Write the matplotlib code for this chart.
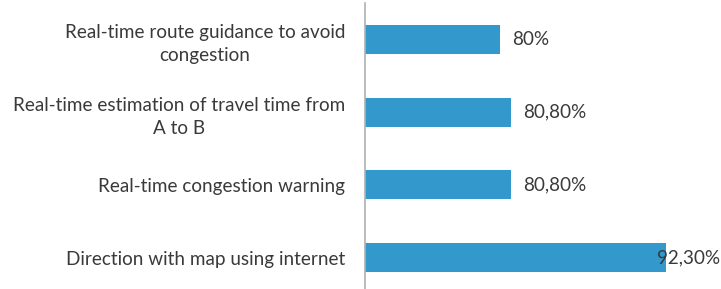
import matplotlib
matplotlib.use("Agg")
import matplotlib.pyplot as plt

categories = [
    "Real-time route guidance to avoid\ncongestion",
    "Real-time estimation of travel time from\nA to B",
    "Real-time congestion warning",
    "Direction with map using internet",
]
values = [80.0, 80.8, 80.8, 92.3]
value_labels = ["80%", "80,80%", "80,80%", "92,30%"]

plt.rcParams['font.family'] = ['Lato', 'DejaVu Sans']

fig = plt.figure(figsize=(7.21, 2.89), dpi=100)
W, H = 721, 289
left, right = 364.7, 703
top, bottom = 3.2, 294
ax = fig.add_axes([left / W, 1 - bottom / H, (right - left) / W, (bottom - top) / H])

ypos = list(range(len(categories)))
ax.barh(ypos, [v - 70 for v in values], left=70, height=0.4, color='#3399cc', zorder=2)
ax.set_xlim(70, 95)
ax.set_ylim(len(categories) - 0.5, -0.5)
ax.set_yticks(ypos)
ax.set_yticklabels(categories, fontsize=13.6, color='#3a3a3a', ha='right',
                   multialignment='center', linespacing=1.45)
ax.tick_params(axis='y', length=0, pad=14)
ax.set_xticks([])
for s in ['top', 'right', 'bottom']:
    ax.spines[s].set_visible(False)
ax.spines['left'].set_color('#b0b0b0')
ax.spines['left'].set_linewidth(1.2)

for i, (v, lab) in enumerate(zip(values, value_labels)):
    off = -7 if i == len(values) - 1 else 8.5
    ax.annotate(lab, (v, i), xytext=(off, 0), textcoords='offset points',
                va='center', ha='left', fontsize=13.6, color='#3a3a3a', zorder=3)

fig.savefig("out.png", dpi=100)
